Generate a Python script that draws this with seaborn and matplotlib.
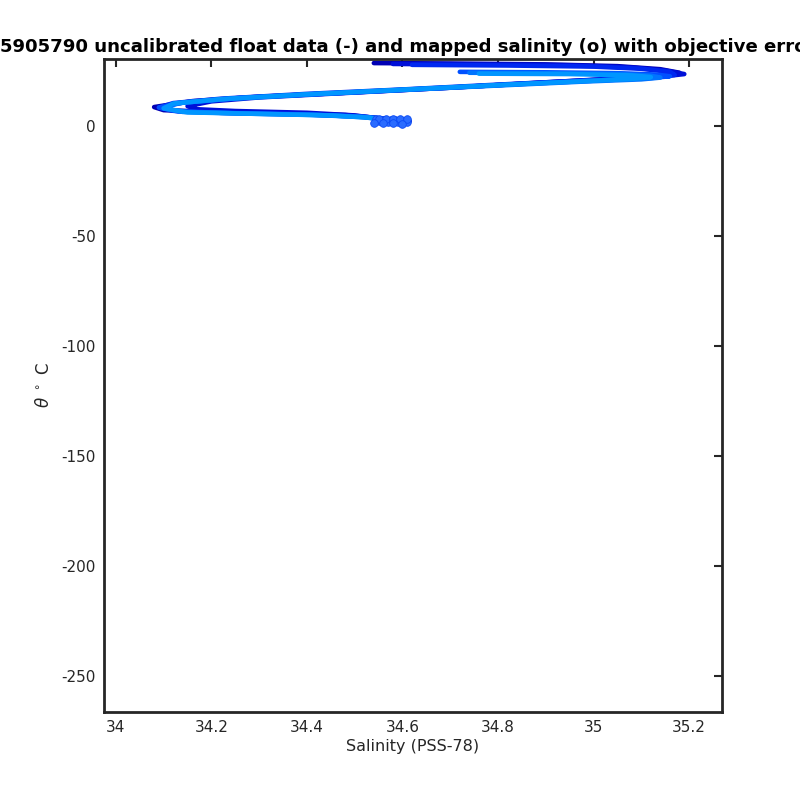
import matplotlib
matplotlib.use("Agg")
import matplotlib.pyplot as plt
import pandas as pd
import seaborn as sns

# theta-salinity profiles (salinity PSS-78, theta degC)
sal_p1 = [34.54, 34.70, 34.90, 35.05, 35.14, 35.18, 35.15, 35.05, 34.88, 34.70, 34.50,
          34.30, 34.16, 34.08, 34.10, 34.20, 34.35, 34.48, 34.54, 34.58, 34.615]
theta_p1 = [28.6, 28.4, 28.0, 27.2, 25.8, 24.2, 23.0, 21.6, 19.6, 17.4, 15.3,
            13.3, 11.3, 8.6, 7.2, 6.4, 5.8, 5.0, 3.8, 2.8, 2.2]

sal_p2 = [34.58, 34.75, 34.95, 35.08, 35.15, 35.19, 35.14, 35.03, 34.86, 34.68,
          34.48, 34.30, 34.20, 34.15, 34.17, 34.25, 34.40, 34.50, 34.55, 34.60]
theta_p2 = [28.2, 28.0, 27.6, 26.6, 25.2, 23.6, 22.4, 21.2, 19.3, 17.2,
            15.0, 13.0, 11.2, 9.0, 7.6, 6.8, 6.0, 4.8, 3.4, 2.5]

sal_p3 = [34.62, 34.82, 35.00, 35.10, 35.16, 35.17, 35.10, 34.98, 34.80, 34.60,
          34.40, 34.22, 34.12, 34.09, 34.12, 34.22, 34.38, 34.50, 34.56, 34.60]
theta_p3 = [27.8, 27.5, 27.0, 26.0, 24.6, 23.2, 22.0, 20.7, 18.8, 16.6,
            14.6, 12.4, 10.4, 8.4, 6.9, 6.0, 5.4, 4.4, 3.2, 2.4]

sal_p4 = [34.72, 34.90, 35.05, 35.13, 35.16, 35.12, 35.00, 34.84, 34.65, 34.45,
          34.26, 34.14, 34.09, 34.13, 34.25, 34.40, 34.52, 34.57, 34.60]
theta_p4 = [24.6, 24.4, 24.0, 23.4, 22.6, 21.8, 20.6, 19.0, 17.0, 14.8,
            12.8, 10.6, 8.4, 6.6, 5.8, 5.2, 4.2, 3.0, 2.3]

sal_p5 = [34.74, 34.92, 35.06, 35.12, 35.14, 35.10, 34.98, 34.82, 34.62, 34.42,
          34.24, 34.13, 34.10, 34.14, 34.28, 34.42, 34.52, 34.56, 34.60]
theta_p5 = [24.2, 24.0, 23.6, 22.8, 22.0, 21.2, 20.2, 18.6, 16.6, 14.5,
            12.4, 10.4, 8.2, 6.4, 5.6, 5.0, 4.0, 2.8, 2.2]

sal_p6 = [34.76, 34.95, 35.08, 35.12, 35.08, 34.96, 34.80, 34.60, 34.40, 34.22,
          34.12, 34.10, 34.15, 34.30, 34.45, 34.53, 34.57, 34.60]
theta_p6 = [23.8, 23.6, 23.0, 22.2, 21.4, 20.2, 18.6, 16.5, 14.4, 12.2,
            10.2, 8.0, 6.2, 5.5, 4.8, 3.8, 2.8, 2.1]

profile_colors = ["#0000b4", "#0010d8", "#0028f0", "#0050ff", "#0074ff", "#0096ff"]

# mapped salinity (o) at the deep theta levels
map_sal = [34.545, 34.555, 34.565, 34.575, 34.585, 34.595, 34.605, 34.55, 34.56, 34.57,
           34.58, 34.59, 34.60, 34.61, 34.55, 34.565, 34.58, 34.595, 34.61,
           34.54, 34.56, 34.58, 34.60]
map_theta = [3.0, 2.9, 2.8, 2.7, 2.6, 2.5, 2.4, 2.2, 2.1, 2.0,
             1.9, 1.8, 1.7, 1.6, 3.4, 3.3, 3.2, 3.1, 3.0,
             1.5, 1.3, 1.2, 1.1]

xtick_vals = [34.0, 34.2, 34.4, 34.6, 34.8, 35.0, 35.2]
xtick_labels = ["34", "34.2", "34.4", "34.6", "34.8", "35", "35.2"]
ytick_vals = [0, -50, -100, -150, -200, -250]
ytick_labels = ["0", "-50", "-100", "-150", "-200", "-250"]

title = "5905790 uncalibrated float data (-) and mapped salinity (o) with objective errors"

sns.set_theme(style="white")
plt.rcParams["font.family"] = ["DejaVu Sans"]

profiles = [(sal_p1, theta_p1), (sal_p2, theta_p2), (sal_p3, theta_p3),
            (sal_p4, theta_p4), (sal_p5, theta_p5), (sal_p6, theta_p6)]
rows = []
for i, (s, t) in enumerate(profiles):
    for k, (sv, tv) in enumerate(zip(s, t)):
        rows.append({"profile": i, "step": k, "sal": sv, "theta": tv})
df = pd.DataFrame(rows)
df_map = pd.DataFrame({"sal": map_sal, "theta": map_theta})

fig = plt.figure(figsize=(8, 8), dpi=100)
ax = fig.add_axes([0.13, 0.11, 0.7725, 0.81625])

sns.lineplot(data=df, x="sal", y="theta", hue="profile", palette=profile_colors,
             sort=False, estimator=None, units="profile", linewidth=3.3,
             legend=False, ax=ax)
sns.scatterplot(data=df_map, x="sal", y="theta", marker="o", s=30,
                color="#2a6cff", edgecolor="#0b4af5", linewidth=0.6,
                legend=False, ax=ax, zorder=3)

ax.set_xlim(33.975, 35.269)
ax.set_ylim(-266.4, 30.45)
ax.set_xticks(xtick_vals)
ax.set_xticklabels(xtick_labels)
ax.set_yticks(ytick_vals)
ax.set_yticklabels(ytick_labels)
ax.tick_params(direction="in", length=6, width=1.5, top=True, right=True,
               labelsize=11, colors="#262626", pad=6)
for sp in ax.spines.values():
    sp.set_visible(True)
    sp.set_color("#262626")
    sp.set_linewidth(2)

ax.set_xlabel("Salinity (PSS-78)", fontsize=11.5, color="#262626", labelpad=3)
ax.set_ylabel(r"$\theta$ $^\circ$ C", fontsize=12, color="#262626", labelpad=6)
ax.set_title(title, fontsize=13.05, fontweight="bold", color="black", pad=5)

fig.savefig("out.png", dpi=100)
